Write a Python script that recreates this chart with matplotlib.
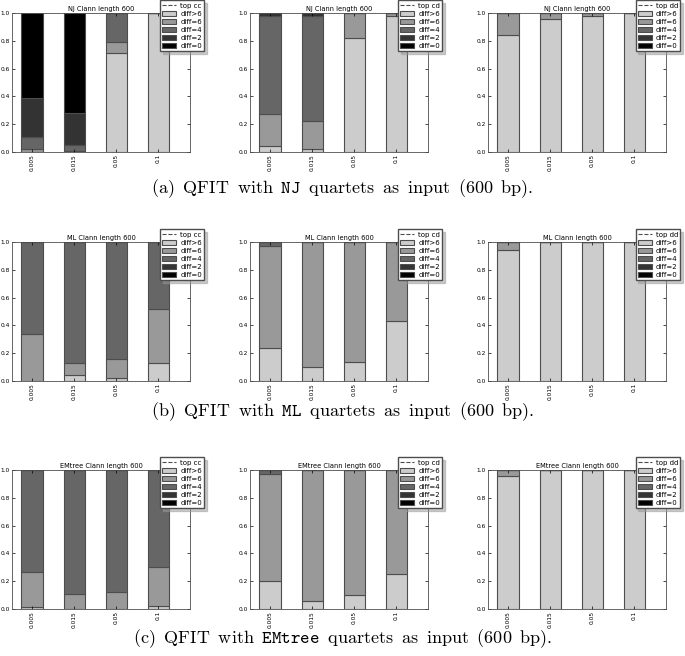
import numpy as np
import matplotlib
matplotlib.use("Agg")
import matplotlib.pyplot as plt

plt.rcParams['mathtext.fontset'] = 'cm'

# x categories (rate) and legend labels
rates = ["0.005", "0.015", "0.05", "0.1"]
levels = ["diff>6", "diff=6", "diff=4", "diff=2", "diff=0"]
level_colors = ["0.8", "0.6", "0.4", "0.2", "0.0"]
tops = ["top cc", "top cd", "top dd"]
methods = ["NJ", "ML", "EMtree"]

# fractions per rate, stacked bottom-up: diff>6, diff=6, diff=4, diff=2, diff=0
nj_cc = [[0.00, 0.02, 0.09, 0.28, 0.61],
         [0.00, 0.005, 0.045, 0.23, 0.72],
         [0.71, 0.08, 0.21, 0.00, 0.00],
         [1.00, 0.00, 0.00, 0.00, 0.00]]
nj_cd = [[0.045, 0.23, 0.70, 0.025, 0.00],
         [0.025, 0.20, 0.75, 0.025, 0.00],
         [0.82, 0.18, 0.00, 0.00, 0.00],
         [0.98, 0.02, 0.00, 0.00, 0.00]]
nj_dd = [[0.84, 0.16, 0.00, 0.00, 0.00],
         [0.955, 0.045, 0.00, 0.00, 0.00],
         [0.975, 0.025, 0.00, 0.00, 0.00],
         [1.00, 0.00, 0.00, 0.00, 0.00]]

ml_cc = [[0.00, 0.34, 0.66, 0.00, 0.00],
         [0.045, 0.085, 0.87, 0.00, 0.00],
         [0.02, 0.14, 0.84, 0.00, 0.00],
         [0.13, 0.39, 0.48, 0.00, 0.00]]
ml_cd = [[0.24, 0.73, 0.03, 0.00, 0.00],
         [0.10, 0.90, 0.00, 0.00, 0.00],
         [0.14, 0.86, 0.00, 0.00, 0.00],
         [0.435, 0.565, 0.00, 0.00, 0.00]]
ml_dd = [[0.945, 0.055, 0.00, 0.00, 0.00],
         [1.00, 0.00, 0.00, 0.00, 0.00],
         [1.00, 0.00, 0.00, 0.00, 0.00],
         [1.00, 0.00, 0.00, 0.00, 0.00]]

em_cc = [[0.015, 0.25, 0.735, 0.00, 0.00],
         [0.00, 0.105, 0.895, 0.00, 0.00],
         [0.00, 0.125, 0.875, 0.00, 0.00],
         [0.025, 0.275, 0.70, 0.00, 0.00]]
em_cd = [[0.205, 0.765, 0.03, 0.00, 0.00],
         [0.055, 0.945, 0.00, 0.00, 0.00],
         [0.10, 0.90, 0.00, 0.00, 0.00],
         [0.255, 0.745, 0.00, 0.00, 0.00]]
em_dd = [[0.955, 0.045, 0.00, 0.00, 0.00],
         [1.00, 0.00, 0.00, 0.00, 0.00],
         [1.00, 0.00, 0.00, 0.00, 0.00],
         [1.00, 0.00, 0.00, 0.00, 0.00]]

caption_tags = ["(a)", "(b)", "(c)"]


def caption(tag, method):
    # computer-modern look, method name in typewriter
    sp = r"\ \:"
    pre = sp.join([tag, "QFIT", "with"]) + sp
    post = sp + sp.join(["quartets", "as", "input", "(600", "bp)."])
    return r"$\mathrm{%s}\mathtt{%s}\mathrm{%s}$" % (pre, method, post)


def draw_panel(ax, data, method, top):
    data = np.array(data)
    x = np.arange(len(rates))
    bottom = np.zeros(len(rates))
    # dashed entry shown in the legend only
    ax.plot([], [], '--', color='0.3', lw=0.8, label=top)
    for k, lab in enumerate(levels):
        ax.bar(x, data[:, k], 0.5, bottom=bottom, align='edge',
               color=level_colors[k], edgecolor='0.3', linewidth=0.8, label=lab)
        bottom += data[:, k]
    ax.set_xlim(-0.225, 4.0)
    ax.set_ylim(0, 1.0)
    ax.set_xticks(x + 0.25)
    ax.set_xticklabels(rates, rotation=90, fontsize=4.2)
    ax.set_yticks(np.arange(0, 1.01, 0.2))
    ax.set_yticklabels(["%.1f" % v for v in np.arange(0, 1.01, 0.2)], fontsize=4.2)
    ax.tick_params(direction='in', length=2, width=0.5, top=True, right=True, pad=1.5)
    for s in ax.spines.values():
        s.set_linewidth(0.6)
        s.set_color('0.3')
    ax.set_title("%s Clann length 600" % method, fontsize=4.8, pad=1.5)
    ax.legend(loc='upper right', bbox_to_anchor=(1.08, 1.09), borderaxespad=0,
              fontsize=5, handlelength=2.0, handleheight=0.7, labelspacing=0.3,
              borderpad=0.3, handletextpad=0.6, fancybox=False,
              shadow={'color': '0.6', 'alpha': 0.5}, framealpha=1,
              edgecolor='0.3')


def main():
    W, H = 685, 656
    fig = plt.figure(figsize=(W / 100, H / 100), dpi=100)

    panels = [[nj_cc, nj_cd, nj_dd], [ml_cc, ml_cd, ml_dd], [em_cc, em_cd, em_dd]]
    col_left = [12, 250, 488]
    row_top = [13, 242, 470]
    aw, ah = 178, 139
    cap_y = [189, 412, 639]

    for r in range(3):
        for c in range(3):
            ax = fig.add_axes([col_left[c] / W, 1 - (row_top[r] + ah) / H, aw / W, ah / H])
            draw_panel(ax, panels[r][c], methods[r], tops[c])
        fig.text(0.5, 1 - cap_y[r] / H, caption(caption_tags[r], methods[r]),
                 ha='center', va='center', fontsize=13)

    fig.savefig("out.png", dpi=100)


if __name__ == "__main__":
    main()
